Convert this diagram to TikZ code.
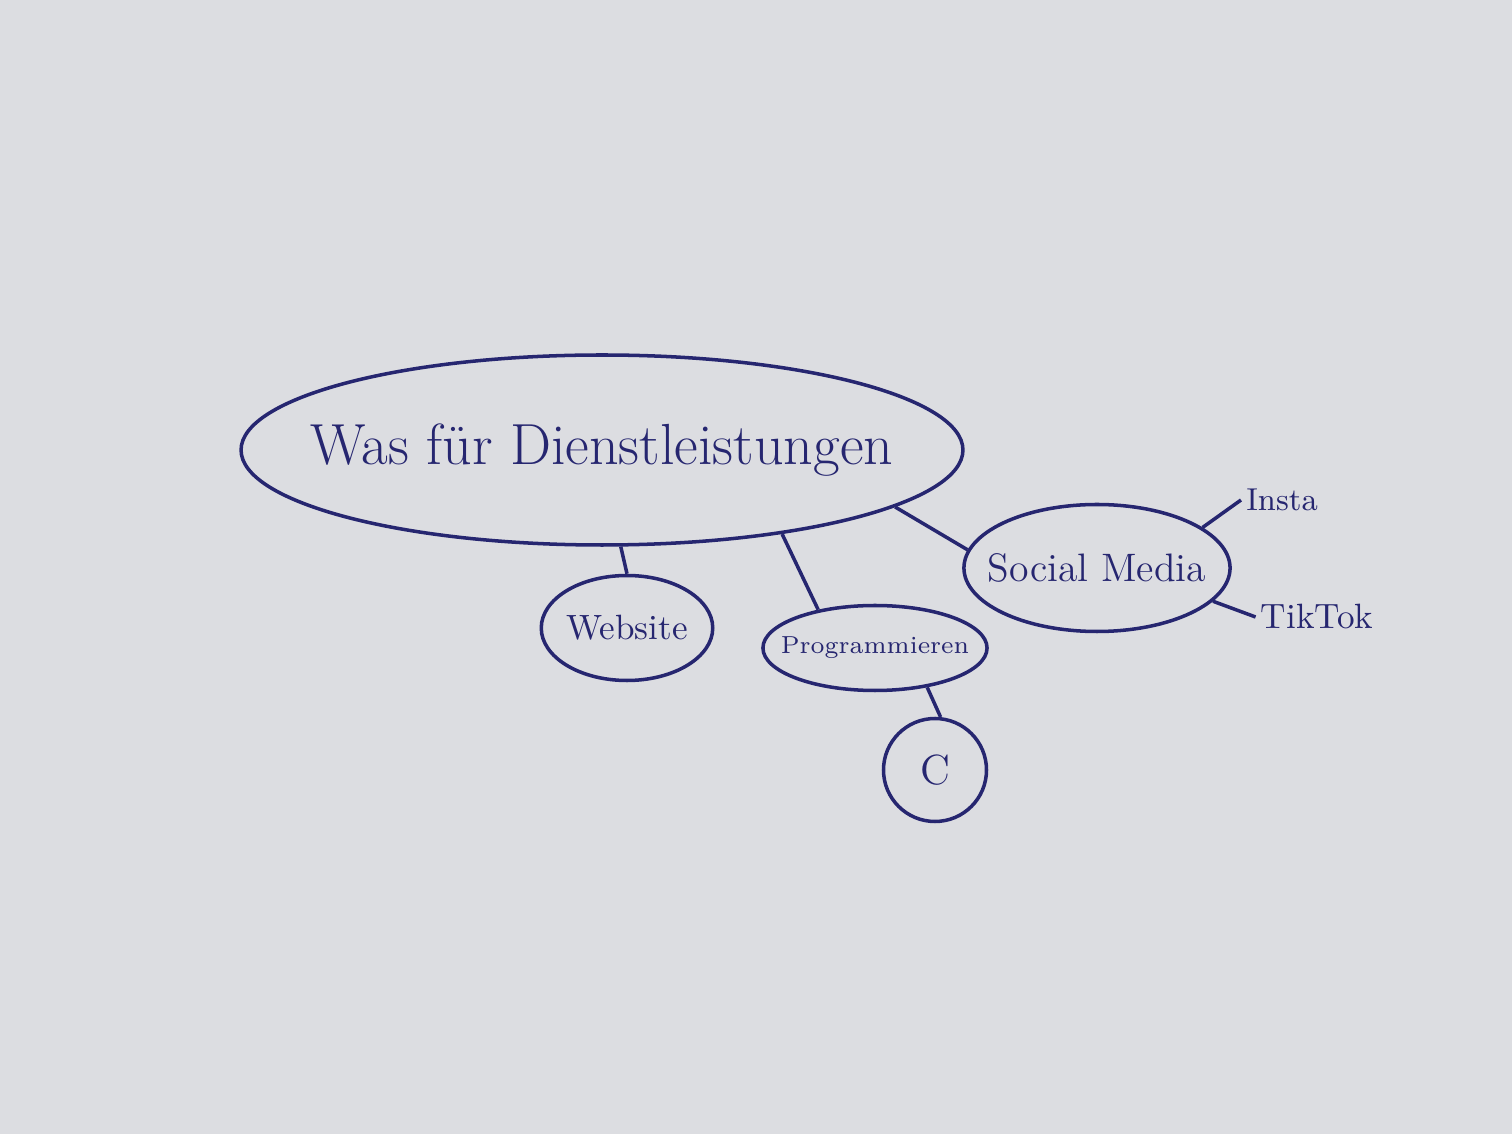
\documentclass[tikz,border=0pt]{standalone}
\usetikzlibrary{shapes.geometric}
\definecolor{paper}{RGB}{220,221,225}
\definecolor{ink}{RGB}{38,38,112}

\begin{document}
\begin{tikzpicture}[line width=1pt,draw=ink,text=ink,
  blob/.style={ellipse,draw=ink,inner sep=0pt},
  word/.style={inner sep=1pt}]
  \useasboundingbox[fill=paper] (0,0) rectangle (15.12,11.34);
  \node[blob,inner xsep=-0.36cm,minimum width=7.2cm,minimum height=1.9cm,font=\fontsize{16.5}{19}\selectfont] (was) at (6.02,6.84) {Was für Dienstleistungen};
  \node[blob,minimum width=1.7cm,minimum height=1.05cm,font=\fontsize{10}{12}\selectfont] (web) at (6.27,5.06) {Website};
  \node[blob,inner xsep=-0.15cm,minimum width=2.05cm,minimum height=0.85cm,font=\fontsize{7}{9}\selectfont] (prog) at (8.75,4.86) {Programmieren};
  \node[blob,minimum width=1.03cm,minimum height=1.03cm,font=\fontsize{12}{14}\selectfont] (c) at (9.35,3.64) {C};
  \node[blob,inner xsep=-0.15cm,minimum width=2.65cm,minimum height=1.27cm,font=\fontsize{11.3}{13}\selectfont] (soc) at (10.97,5.66) {Social Media};
  \node[word,font=\fontsize{9}{11}\selectfont] (insta) at (12.82,6.34) {Insta};
  \node[word,font=\fontsize{10}{12}\selectfont] (tiktok) at (13.17,5.17) {TikTok};
  \path[-]
  (was.-79) edge (web.90)
  (was.-25) edge (prog.146)
  (was.-11) edge (soc.172)
  (prog.-37) edge (c.84)
  (soc.21) edge (insta.west)
  (soc.-16) edge (tiktok.west);
\end{tikzpicture}
\end{document}
